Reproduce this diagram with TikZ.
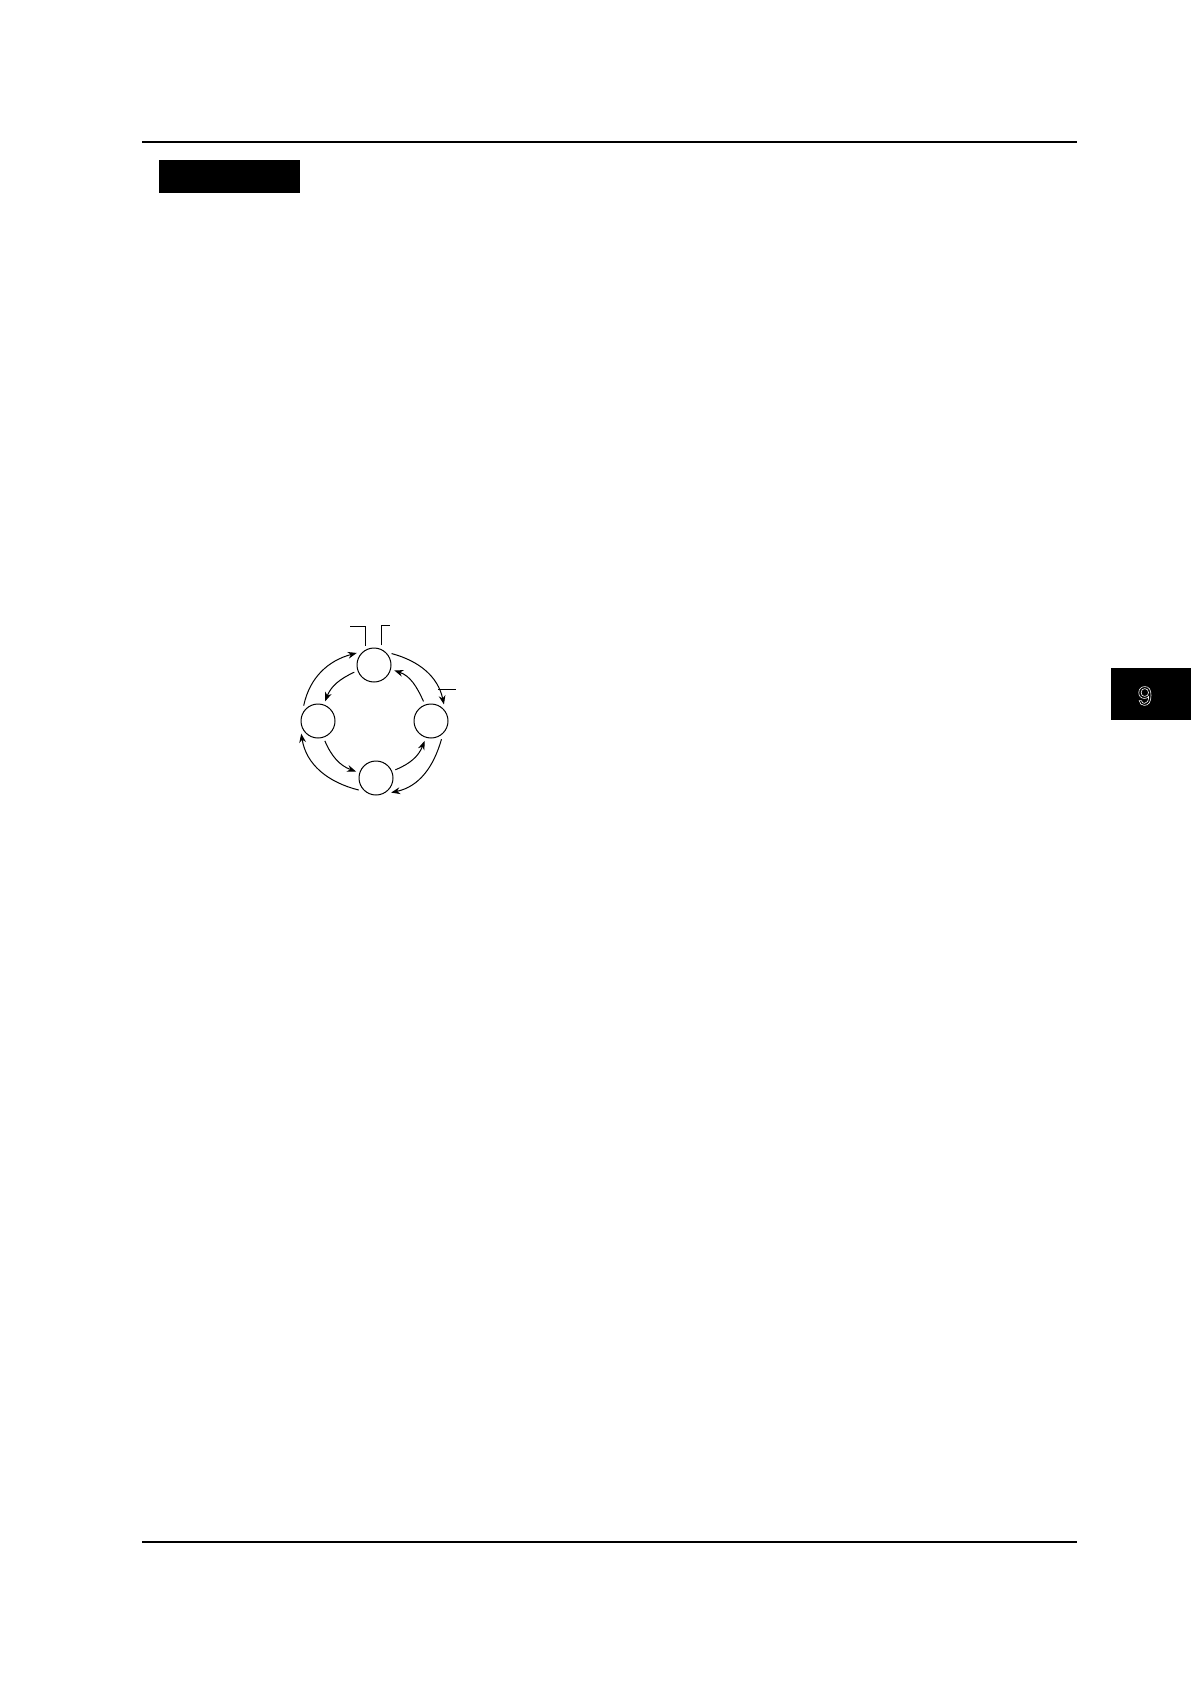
\documentclass[tikz,border=0pt]{standalone}
\usepackage{fontspec}
\newfontfamily\tabfont{TeX Gyre Heros}
\usetikzlibrary{
  arrows.meta,
  calc,
  positioning,
}
\tikzset{
  x = 0.5pt,
  y = -0.5pt,
  st/.style={
    draw, circle, minimum size=17pt,
    inner sep=0pt, outer sep=2pt, line width=0.5pt,
  },
  >={Stealth[length=4.5pt,width=3.4pt]},
  flow/.style={->, line width=0.5pt},
  rule/.style={line width=0.7pt},
}

\begin{document}
\begin{tikzpicture}
  \useasboundingbox (0,0) rectangle (1191,1684);
  %% page rules and tabs
  \draw[rule] (142,142) -- (1077,142);
  \draw[rule] (142,1542) -- (1077,1542);
  \fill (159,160) rectangle (300,193.5);
  \fill (1111,668) rectangle (1191,720);
  \node[text=white, font=\tabfont\fontsize{13pt}{13pt}\selectfont] (Tab) at (1145,696)
    {\special{pdf:code q 1 Tr 0.3 w 1 1 1 RG}9\special{pdf:code Q}};
  %% states
  \node[st](Top) at (374,665){};
  \node[st](Lft) at (318,721){};
  \node[st](Rgt) at (431,721){};
  \node[st](Bot) at (376,778){};
  %% outer ring, clockwise
  \draw[flow](Lft.133) to[out=78, in=195] (Top.145);
  \draw[flow](Top.33) to[out=-15, in=102] (Rgt.52);
  \draw[flow](Rgt.-60) to[out=-106, in=12] (Bot.-44);
  \draw[flow](Bot.215) to[out=166, in=-81] (Lft.217);
  %% inner ring, counterclockwise
  \draw[flow](Top.200) to[out=205, in=69] (Lft.70);
  \draw[flow](Lft.-71) to[out=-67, in=160] (Bot.162);
  \draw[flow](Bot.23) to[out=22, in=249] (Rgt.252);
  \draw[flow](Rgt.111) to[out=114, in=-19] (Top.-15);
  %% leaders
  \draw[line width=0.5pt](Top.113) -- ++(0,-19.5) -- ++(-16,0);
  \draw[line width=0.5pt](Top.69) -- ++(0,-19.5) -- ++(8,0);
  \coordinate (tagR) at (438,689);
  \draw[line width=0.5pt](tagR) -- ++(18,0);
\end{tikzpicture}
\end{document}
